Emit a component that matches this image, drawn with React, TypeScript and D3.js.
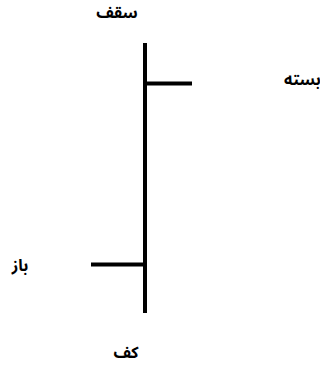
import React from 'react';
import * as d3 from 'd3';

// one OHLC bar with its four Persian labels
const fields = ['open', 'high', 'low', 'close'];
const labels = ['باز', 'سقف', 'کف', 'بسته'];
const values = [18, 100, 0, 85];

const width = 320;
const height = 368;

export default function App() {
  const y = d3.scaleLinear().domain([0, 100]).range([313, 43]);
  const x = 145;
  const tick = 50;
  const v = (k: string) => values[fields.indexOf(k)];
  const lab = (k: string) => labels[fields.indexOf(k)];

  const font = {
    fontFamily: '"Noto Sans Arabic", "Noto Naskh Arabic", "DejaVu Sans", sans-serif',
    fontWeight: 700,
    fontSize: 16,
    fill: '#000',
  } as const;

  return (
    <svg
      width={width}
      height={height}
      style={{ position: 'absolute', left: 0, top: 0, background: '#fff' }}
    >
      <g stroke="#000" strokeWidth={4}>
        <line x1={x} x2={x} y1={y(v('high'))} y2={y(v('low'))} />
        <line x1={x} x2={x - tick - 4} y1={y(v('open'))} y2={y(v('open'))} />
        <line x1={x} x2={x + tick - 3} y1={y(v('close'))} y2={y(v('close'))} />
      </g>
      <text {...font} x={117} y={y(v('high')) - 25} textAnchor="middle">
        {lab('high')}
      </text>
      <text {...font} x={284} y={y(v('close')) + 1} textAnchor="start">
        {lab('close')}
      </text>
      <text {...font} x={20} y={y(v('open')) + 7} textAnchor="middle">
        {lab('open')}
      </text>
      <text {...font} x={126} y={y(v('low')) + 45} textAnchor="middle">
        {lab('low')}
      </text>
    </svg>
  );
}
